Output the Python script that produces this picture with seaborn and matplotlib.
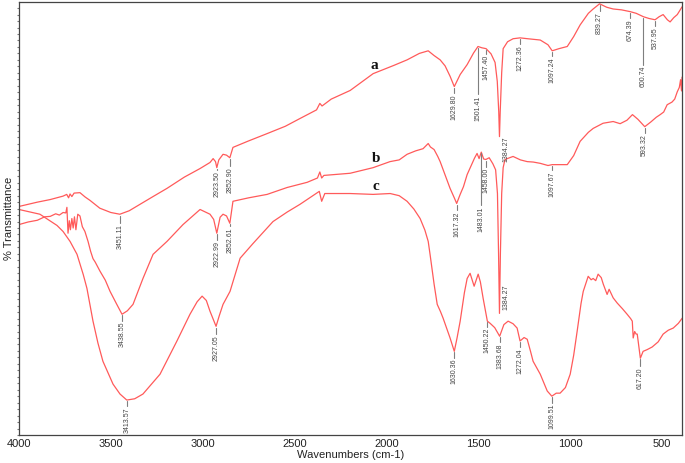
import numpy as np
import pandas as pd
import matplotlib
matplotlib.use("Agg")
import matplotlib.pyplot as plt
import seaborn as sns

# spectrum a
wn_a = [4000, 3900, 3830, 3760, 3740, 3730, 3722, 3712, 3700, 3668, 3640, 3613, 3560, 3500,
        3451, 3400, 3341, 3270, 3194, 3100, 3014, 2960, 2943, 2930, 2923, 2912, 2889, 2870,
        2852, 2835, 2750, 2649, 2550, 2470, 2380, 2362, 2350, 2300, 2197, 2072, 1960, 1887,
        1820, 1772, 1740, 1707, 1680, 1653, 1630, 1598, 1560, 1525, 1501, 1480, 1457, 1430,
        1408, 1396, 1388, 1384, 1380, 1372, 1364, 1340, 1310, 1272, 1230, 1162, 1120, 1097,
        1060, 1015, 980, 945, 900, 874, 839, 800, 765, 720, 674, 640, 600, 570, 537, 515,
        493, 470, 455, 435, 416, 400, 390]
t_a = [53.0, 54.0, 54.6, 55.4, 55.8, 55.0, 55.9, 55.3, 56.1, 56.2, 55.2, 54.4, 52.6, 51.6,
       51.2, 52.0, 53.5, 55.3, 57.2, 59.8, 61.8, 63.2, 64.1, 63.4, 62.0, 63.8, 65.1, 64.9,
       64.3, 66.7, 68.2, 69.9, 71.6, 73.4, 75.4, 76.9, 76.3, 77.9, 79.9, 83.8, 85.7, 87.0,
       88.5, 89.1, 88.0, 87.0, 85.6, 83.2, 80.8, 83.6, 85.9, 88.6, 90.1, 89.8, 89.6, 88.4,
       86.4, 82.0, 75.0, 69.2, 75.0, 84.0, 89.6, 91.2, 91.9, 92.1, 91.9, 91.6, 90.5, 89.1,
       89.6, 90.1, 92.4, 95.1, 97.8, 98.8, 100.0, 99.2, 98.8, 98.6, 98.2, 97.8, 97.0, 96.6,
       96.3, 97.0, 97.5, 96.3, 95.8, 96.8, 97.5, 98.6, 99.3]

# spectrum b
wn_b = [4000, 3950, 3900, 3860, 3830, 3800, 3780, 3760, 3745, 3739, 3733, 3726, 3720, 3712,
        3705, 3698, 3690, 3680, 3668, 3655, 3641, 3624, 3610, 3597, 3585, 3559, 3530, 3504,
        3470, 3439, 3410, 3379, 3325, 3270, 3194, 3107, 3014, 2960, 2940, 2923, 2905, 2889,
        2870, 2852, 2835, 2750, 2649, 2540, 2431, 2375, 2362, 2352, 2340, 2197, 2072, 1980,
        1930, 1887, 1840, 1800, 1772, 1760, 1740, 1720, 1707, 1680, 1653, 1630, 1617, 1598,
        1580, 1560, 1540, 1520, 1506, 1495, 1483, 1470, 1458, 1440, 1420, 1405, 1395, 1389,
        1384, 1379, 1372, 1364, 1354, 1310, 1270, 1233, 1200, 1162, 1120, 1097, 1060, 1015,
        980, 945, 900, 874, 820, 765, 727, 690, 660, 630, 593, 560, 530, 509, 490, 471, 445,
        430, 416, 405, 398, 393, 390]
t_b = [48.8, 49.4, 49.8, 50.6, 50.7, 51.3, 51.0, 51.6, 51.5, 52.8, 46.8, 49.7, 47.6, 50.2,
       48.0, 50.6, 47.6, 51.2, 50.8, 48.3, 47.2, 44.9, 42.6, 40.9, 40.1, 38.0, 35.9, 33.3,
       30.5, 28.0, 28.8, 30.3, 36.3, 41.9, 44.9, 48.8, 52.3, 51.2, 50.0, 46.8, 50.5, 51.2,
       50.8, 49.1, 54.2, 55.0, 55.8, 57.4, 58.6, 59.6, 61.0, 59.6, 60.2, 60.7, 62.0, 63.4,
       63.8, 65.1, 65.9, 66.4, 67.6, 66.8, 66.2, 64.6, 63.4, 60.3, 57.2, 55.0, 53.7, 55.8,
       57.6, 60.4, 62.3, 64.2, 65.3, 64.1, 65.6, 64.0, 63.9, 64.3, 62.9, 61.5, 56.0, 42.0,
       28.2, 42.0, 56.0, 62.0, 63.9, 64.6, 63.8, 63.4, 63.3, 63.0, 62.5, 62.7, 62.7, 62.7,
       64.8, 68.1, 70.2, 71.1, 72.3, 72.7, 72.2, 73.0, 74.3, 73.2, 71.5, 72.6, 73.7, 74.3,
       74.9, 76.6, 77.2, 77.9, 79.6, 80.6, 82.4, 79.8, 83.0]

# spectrum c
wn_c = [4000, 3886, 3793, 3760, 3722, 3684, 3650, 3630, 3597, 3570, 3543, 3488, 3450, 3413,
        3370, 3325, 3232, 3140, 3069, 3030, 3003, 2980, 2960, 2927, 2910, 2889, 2851, 2796,
        2726, 2617, 2540, 2470, 2400, 2365, 2352, 2335, 2197, 2072, 1979, 1930, 1887, 1850,
        1816, 1790, 1772, 1762, 1740, 1723, 1705, 1691, 1653, 1630, 1615, 1598, 1575, 1560,
        1544, 1522, 1500, 1488, 1473, 1450, 1435, 1410, 1383, 1360, 1337, 1310, 1288, 1272,
        1250, 1233, 1215, 1201, 1162, 1124, 1099, 1075, 1054, 1025, 999, 980, 961, 940, 928,
        901, 885, 874, 860, 847, 830, 819, 798, 787, 765, 743, 715, 689, 670, 661, 656, 648,
        640, 634, 617, 602, 580, 553, 520, 493, 465, 438, 410, 389]
t_c = [52.3, 51.2, 48.6, 47.2, 44.9, 41.9, 37.2, 34.0, 26.4, 21.3, 17.1, 11.8, 9.5, 8.1,
       8.4, 9.5, 14.1, 21.8, 28.0, 30.9, 32.2, 31.2, 28.7, 25.2, 27.6, 30.3, 33.3, 41.0,
       44.4, 49.5, 51.7, 53.5, 55.5, 56.5, 54.2, 56.0, 56.0, 55.8, 56.0, 55.5, 54.2, 52.4,
       50.2, 47.5, 44.9, 41.9, 35.0, 30.3, 28.6, 27.1, 22.5, 19.4, 22.5, 26.4, 33.0, 36.3,
       37.5, 34.5, 37.3, 35.5, 31.7, 26.4, 25.9, 24.9, 22.9, 25.6, 26.4, 25.8, 24.8, 21.8,
       22.6, 22.2, 19.4, 17.1, 14.1, 10.2, 9.0, 9.7, 9.7, 11.0, 14.1, 18.5, 24.1, 30.5, 33.3,
       36.8, 36.0, 36.3, 35.8, 37.3, 36.5, 35.0, 32.6, 33.8, 31.8, 30.6, 29.3, 28.0, 27.0,
       26.4, 22.5, 24.0, 23.4, 23.4, 17.8, 19.4, 19.8, 20.4, 21.6, 23.4, 24.3, 24.8, 25.9,
       27.1]

# peak labels: (wavenumber, text, line length in % units)
peaks_a = [(3451.11, "3451.11", 1.8), (2923.50, "2923.50", 0.4), (2852.90, "2852.90", 1.6),
           (1629.80, "1629.80", 1.2), (1501.41, "1501.41", 10.8), (1457.40, "1457.40", 0.9),
           (1272.36, "1272.36", 1.2), (1097.24, "1097.24", 1.0), (839.27, "839.27", 1.4),
           (674.39, "674.39", 1.2), (600.74, "600.74", 10.8), (537.95, "537.95", 1.2)]
peaks_b = [(3438.55, "3438.55", 1.2), (2922.99, "2922.99", 1.2), (2852.61, "2852.61", 0.4),
           (1617.32, "1617.32", 1.2), (1483.01, "1483.01", 12.0), (1458.00, "1458.00", 1.4),
           (1097.67, "1097.67", 1.0), (593.32, "593.32", 1.2)]
peaks_c = [(3413.57, "3413.57", 1.2), (2927.05, "2927.05", 1.5), (1630.36, "1630.36", 1.2),
           (1450.22, "1450.22", 1.0), (1383.68, "1383.68", 1.2), (1272.04, "1272.04", 1.2),
           (1099.51, "1099.51", 1.2), (617.20, "617.20", 1.5)]
# the sharp 1384 band: text set beside the band
sharp_labels = [("1384.27", 1350, 69.2), ("1384.27", 1350, 35.0)]

curve_names = ["a", "b", "c"]
name_pos = [(2067, 85.6), (2056, 64.2), (2056, 57.6)]

sns.set_style("white")
plt.rcParams["font.family"] = ["Liberation Sans", "DejaVu Sans"]

fig = plt.figure(figsize=(6.85, 4.63), dpi=100)
ax = fig.add_axes([0.0277, 0.0605, 0.968, 0.935])

red = "#ff5a5a"
for wn, t in [(wn_a, t_a), (wn_b, t_b), (wn_c, t_c)]:
    df = pd.DataFrame({"wn": wn, "T": t})
    sns.lineplot(data=df, x="wn", y="T", ax=ax, color=red, linewidth=0.9, sort=False)

# peak markers and labels
for wn, t, peaks in [(wn_a, t_a, peaks_a), (wn_b, t_b, peaks_b), (wn_c, t_c, peaks_c)]:
    xs = np.array(wn)[::-1]
    ys = np.array(t)[::-1]
    for p, label, length in peaks:
        y0 = np.interp(p, xs, ys) - 0.3
        y1 = y0 - length
        ax.plot([p, p], [y0, y1], color="#7f7f7f", linewidth=0.8)
        ax.text(p, y1 - 0.3, label, rotation=90, ha="center", va="top",
                fontsize=5, color="#444444")
for label, x, y in sharp_labels:
    ax.text(x, y, label, rotation=90, ha="center", va="top", fontsize=5, color="#444444")

for name, (x, y) in zip(curve_names, name_pos):
    ax.text(x, y, name, fontsize=11, fontweight="bold", family="Liberation Serif",
            ha="center", va="center", color="#111111")

ax.set_xlim(4000, 390)
ax.set_ylim(0, 100.4)
ax.set_xticks([4000, 3500, 3000, 2500, 2000, 1500, 1000, 500])
ax.set_xticks(np.arange(400, 4000, 100), minor=True)
ax.set_yticks(np.arange(0, 100, 1.5), minor=True)
ax.set_yticks([])
ax.tick_params(axis="x", which="both", direction="out", length=2, width=0.6,
               labelsize=8, pad=1, colors="#555555", labelcolor="#222222")
ax.tick_params(axis="y", which="minor", direction="out", length=1.5, width=0.8,
               colors="#777777", left=True)
ax.set_xlabel("Wavenumbers (cm-1)", fontsize=8, labelpad=2, color="#222222")
ax.set_ylabel("% Transmittance", fontsize=8, labelpad=2, color="#222222")
ax.xaxis.set_label_coords(0.5, -0.035)
ax.yaxis.set_label_coords(-0.008, 0.5)
for s in ax.spines.values():
    s.set_color("#444444")
    s.set_linewidth(0.9)

fig.savefig("out.png", dpi=100)
